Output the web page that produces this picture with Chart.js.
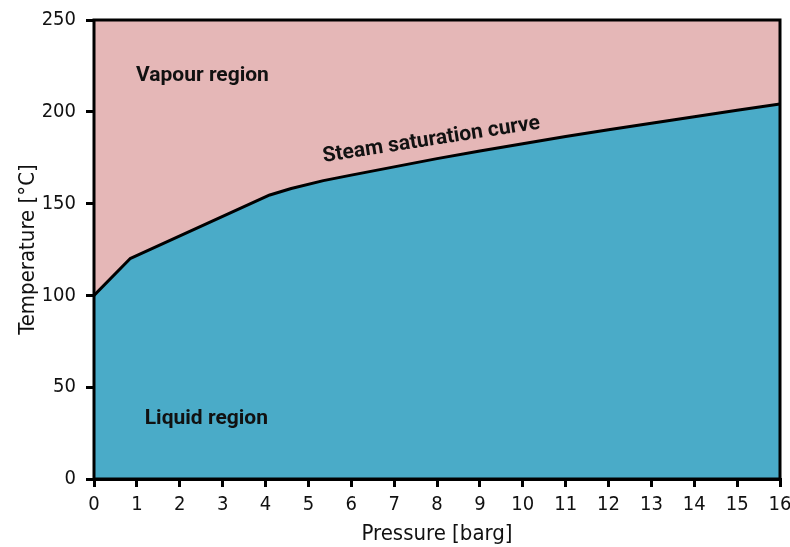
<!DOCTYPE html>
<html>
<head>
<meta charset="utf-8">
<script src="https://cdn.jsdelivr.net/npm/chart.js@4"></script>
<style>
html,body{margin:0;padding:0;background:#fff;}
#wrap{width:790px;height:547px;position:relative;}
</style>
</head>
<body>
<div id="wrap"><canvas id="c" width="790" height="547"></canvas></div>
<script>
// Data
const pressureBarg = [0, 0.84, 4.1, 4.6, 5.35, 6, 7, 8, 9, 10, 11, 12, 13, 14, 15, 16];
const saturationTempC = [100, 120, 154.7, 158.2, 162.5, 165.5, 170, 174.5, 178.6, 182.6, 186.5, 190.2, 193.8, 197.3, 200.8, 204.3];
const xTickValues = [0,1,2,3,4,5,6,7,8,9,10,11,12,13,14,15,16];
const yTickValues = [0,50,100,150,200,250];
const regionLabels = ["Vapour region", "Liquid region", "Steam saturation curve"];

const PINK = '#E5B7B7';
const BLUE = '#4AABC8';
const FONT = 'Roboto, "Liberation Sans", sans-serif';
const NARROW = '"Liberation Sans Narrow", "DejaVu Sans Condensed", Roboto, sans-serif';

const points = pressureBarg.map((p, i) => ({x: p, y: saturationTempC[i]}));

const areaPlugin = {
  id: 'areaPlugin',
  beforeDatasetsDraw(chart) {
    const {ctx, chartArea: a} = chart;
    ctx.save();
    ctx.fillStyle = PINK;
    ctx.fillRect(a.left, a.top, a.right - a.left, a.bottom - a.top);
    ctx.restore();
  },
  afterDatasetsDraw(chart) {
    const {ctx, chartArea: a, scales} = chart;
    const xs = scales.x, ys = scales.y;
    ctx.save();
    ctx.fillStyle = '#111';
    ctx.font = 'bold 21px ' + FONT;
    ctx.textAlign = 'center';
    ctx.textBaseline = 'middle';
    ctx.fillText(regionLabels[0], xs.getPixelForValue(2.53), ys.getPixelForValue(219.5));
    ctx.fillText(regionLabels[1], xs.getPixelForValue(2.62), ys.getPixelForValue(32.7));
    ctx.translate(xs.getPixelForValue(7.87), ys.getPixelForValue(184.6));
    ctx.rotate(-8.8 * Math.PI / 180);
    ctx.fillText(regionLabels[2], 0, 0);
    ctx.restore();
    // frame
    ctx.save();
    ctx.strokeStyle = '#000';
    ctx.lineWidth = 3;
    ctx.strokeRect(a.left, a.top, a.right - a.left, a.bottom - a.top);
    ctx.restore();
  }
};

new Chart(document.getElementById('c'), {
  type: 'line',
  data: {
    datasets: [{
      data: points,
      borderColor: '#000',
      borderWidth: 3,
      backgroundColor: BLUE,
      fill: 'origin',
      pointRadius: 0,
      tension: 0,
      borderJoinStyle: 'round'
    }]
  },
  options: {
    responsive: false,
    animation: false,
    layout: {padding: {top: 20, right: 10, left: 0, bottom: 0}},
    plugins: {legend: {display: false}, tooltip: {enabled: false}},
    scales: {
      x: {
        type: 'linear', min: 0, max: 16,
        afterBuildTicks: s => { s.ticks = xTickValues.map(v => ({value: v})); },
        afterFit: s => { s.height = 68; s.paddingLeft = 0; s.paddingRight = 0; },
        grid: {display: true, drawOnChartArea: false, drawTicks: true, tickLength: 8, tickWidth: 3, tickColor: '#000', lineWidth: 3, color: '#000'},
        border: {display: true, color: '#000', width: 3},
        ticks: {color: '#111', font: {family: NARROW, size: 20}, padding: 6, maxRotation: 0, autoSkip: false},
        title: {display: true, text: 'Pressure [barg]', color: '#111', font: {family: NARROW, size: 22}, padding: {top: 0, bottom: 0}}
      },
      y: {
        type: 'linear', min: 0, max: 250,
        afterBuildTicks: s => { s.ticks = yTickValues.map(v => ({value: v})); },
        afterFit: s => { s.width = 94; s.paddingTop = 0; s.paddingBottom = 0; },
        grid: {display: true, drawOnChartArea: false, drawTicks: true, tickLength: 8, tickWidth: 3, tickColor: '#000', lineWidth: 3, color: '#000'},
        border: {display: true, color: '#000', width: 3},
        ticks: {color: '#111', font: {family: NARROW, size: 20}, padding: 10, autoSkip: false},
        title: {display: true, text: 'Temperature [°C]', color: '#111', font: {family: NARROW, size: 22}, padding: {top: 15, bottom: 0}}
      }
    }
  },
  plugins: [areaPlugin]
});
</script>
</body>
</html>
